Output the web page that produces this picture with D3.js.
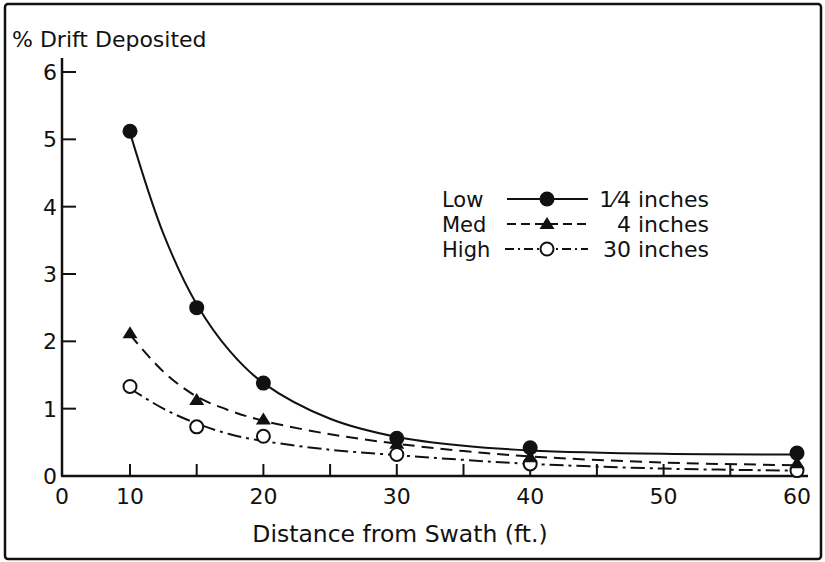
<!DOCTYPE html>
<html lang="en">
<head>
<meta charset="UTF-8">
<title>Drift deposited</title>
<script src="https://d3js.org/d3.v7.min.js"></script>
<style>
  body { margin: 0; background: #fff; }
  text { font-family: "DejaVu Sans", sans-serif; fill: #111; }
</style>
</head>
<body>
<svg width="825" height="562"></svg>
<script>
// measured points
var distances = [10, 15, 20, 30, 40, 60];
var lowValues = [5.12, 2.5, 1.38, 0.56, 0.42, 0.34];
var medValues = [2.12, 1.13, 0.84, 0.48, 0.28, 0.19];
var highValues = [1.33, 0.73, 0.59, 0.32, 0.18, 0.08];

// fitted curves as drawn
var fitDistances = [10, 12.5, 15, 17.5, 20, 25, 30, 35, 40, 50, 60];
var lowFit = [5.1, 3.6, 2.55, 1.85, 1.38, 0.85, 0.58, 0.45, 0.38, 0.33, 0.32];
var medFit = [2.1, 1.55, 1.18, 0.97, 0.82, 0.62, 0.48, 0.37, 0.29, 0.2, 0.16];
var highFit = [1.3, 1.0, 0.78, 0.62, 0.52, 0.39, 0.31, 0.24, 0.18, 0.11, 0.08];

var xTicks = [10, 15, 20, 25, 30, 35, 40, 45, 50, 55, 60];
var xTickLabels = [0, 10, 20, 30, 40, 50, 60];
var yTicks = [1, 2, 3, 4, 5, 6];
var yTickLabels = [0, 1, 2, 3, 4, 5, 6];

var seriesNames = ["Low", "Med", "High"];
var seriesHeights = ["1\u20444 inches", "4 inches", "30 inches"];

var svg = d3.select("svg");

// x axis is compressed between 0 and 10
var x = d3.scaleLinear().domain([0, 10, 60]).range([62, 130, 797]);
var y = d3.scaleLinear().domain([0, 6]).range([476, 72]);

// frame
svg.append("rect")
  .attr("x", 5).attr("y", 4).attr("width", 816).attr("height", 555)
  .attr("rx", 3)
  .style("fill", "none").style("stroke", "#111").style("stroke-width", 2.5);

svg.append("text")
  .attr("x", 12).attr("y", 47)
  .style("font-size", "22px")
  .text("% Drift Deposited");

// axes
svg.append("line")
  .attr("x1", 62).attr("x2", 62).attr("y1", 58).attr("y2", y(0))
  .style("stroke", "#111").style("stroke-width", 2.5);
svg.append("line")
  .attr("x1", 61).attr("x2", 808).attr("y1", y(0)).attr("y2", y(0))
  .style("stroke", "#111").style("stroke-width", 2.5);

svg.selectAll("line.ytick")
  .data(yTicks)
  .join("line")
  .classed("ytick", true)
  .attr("x1", 62).attr("x2", 76)
  .attr("y1", function(d) { return y(d); })
  .attr("y2", function(d) { return y(d); })
  .style("stroke", "#111").style("stroke-width", 2);

svg.selectAll("text.ylabel")
  .data(yTickLabels)
  .join("text")
  .classed("ylabel", true)
  .attr("x", 57)
  .attr("y", function(d) { return y(d) + 8; })
  .attr("text-anchor", "end")
  .style("font-size", "22px")
  .text(function(d) { return d; });

svg.selectAll("line.xtick")
  .data(xTicks)
  .join("line")
  .classed("xtick", true)
  .attr("x1", function(d) { return x(d); })
  .attr("x2", function(d) { return x(d); })
  .attr("y1", y(0)).attr("y2", y(0) - 12)
  .style("stroke", "#111").style("stroke-width", 2);

svg.selectAll("text.xlabel")
  .data(xTickLabels)
  .join("text")
  .classed("xlabel", true)
  .attr("x", function(d) { return x(d); })
  .attr("y", 504)
  .attr("text-anchor", "middle")
  .style("font-size", "22px")
  .text(function(d) { return d; });

svg.append("text")
  .attr("x", 400).attr("y", 542)
  .attr("text-anchor", "middle")
  .style("font-size", "23.5px")
  .text("Distance from Swath (ft.)");

// curves
var dashes = [null, "12,7", "14,5,3,5"];
var fits = [lowFit, medFit, highFit];
var line = d3.line()
  .x(function(d) { return x(d[0]); })
  .y(function(d) { return y(d[1]); })
  .curve(d3.curveCatmullRom.alpha(0.5));

svg.selectAll("path.fit")
  .data(fits)
  .join("path")
  .classed("fit", true)
  .attr("d", function(d) { return line(d3.zip(fitDistances, d)); })
  .style("fill", "none")
  .style("stroke", "#111")
  .style("stroke-width", 2)
  .style("stroke-dasharray", function(d, i) { return dashes[i]; });

// markers
function drawMarker(g, kind, cx, cy) {
  if (kind === 0) {
    g.append("circle").attr("cx", cx).attr("cy", cy).attr("r", 7.5)
      .style("fill", "#111");
  } else if (kind === 1) {
    g.append("path")
      .attr("d", "M" + cx + "," + (cy - 7) + "L" + (cx + 7.5) + "," + (cy + 5) + "L" + (cx - 7.5) + "," + (cy + 5) + "Z")
      .style("fill", "#111");
  } else {
    g.append("circle").attr("cx", cx).attr("cy", cy).attr("r", 6.5)
      .style("fill", "#fff").style("stroke", "#111").style("stroke-width", 2);
  }
}

var markerLayer = svg.append("g");
[highValues, medValues, lowValues].forEach(function(vals, j) {
  var kind = 2 - j;
  vals.forEach(function(v, i) {
    drawMarker(markerLayer, kind, x(distances[i]), y(v));
  });
});

// legend
var legend = svg.append("g");
seriesNames.forEach(function(name, i) {
  var ly = 199 + i * 25;
  legend.append("text")
    .attr("x", 442).attr("y", ly + 8)
    .style("font-size", "21px")
    .text(name);
  legend.append("line")
    .attr("x1", i === 2 ? 505 : 507).attr("x2", 588)
    .attr("y1", ly).attr("y2", ly)
    .style("stroke", "#111").style("stroke-width", 2)
    .style("stroke-dasharray", i === 1 ? "9,5" : (i === 2 ? "9,4,2,4" : null));
  drawMarker(legend, i, 547, ly);
  legend.append("text")
    .attr("x", 709).attr("y", ly + 8)
    .attr("text-anchor", "end")
    .style("font-size", "22px")
    .text(seriesHeights[i]);
});
</script>
</body>
</html>
